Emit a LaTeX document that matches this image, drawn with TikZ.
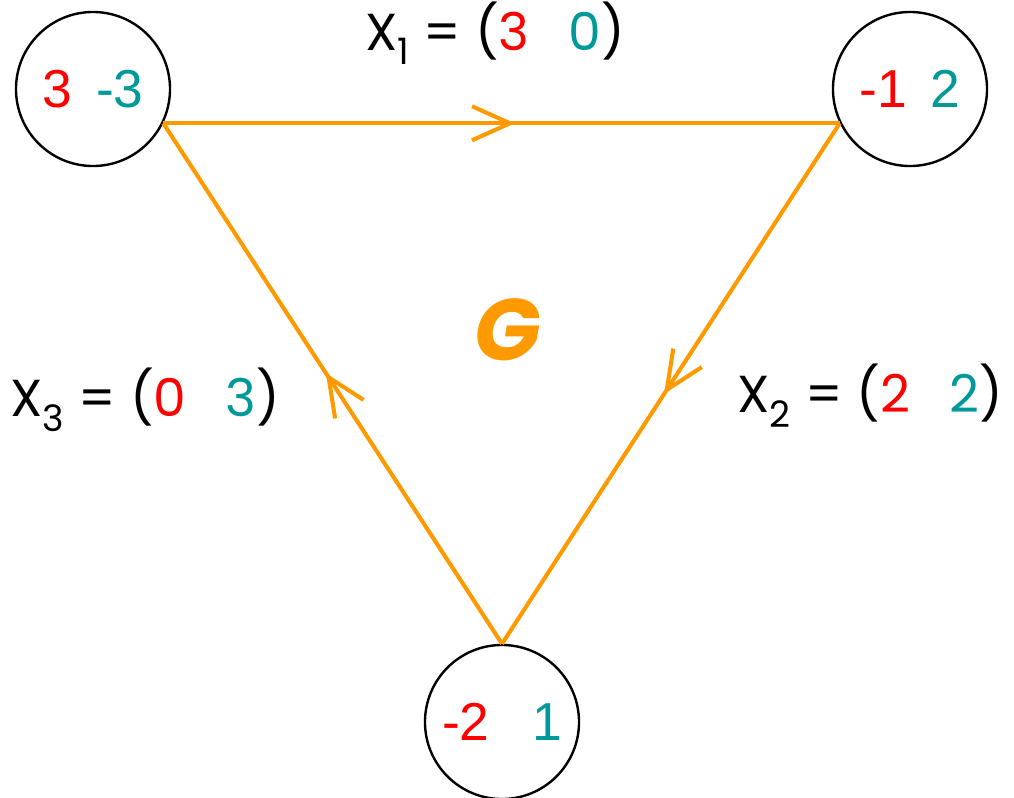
\documentclass[tikz,border=0pt]{standalone}
\usepackage{fontspec}
\setmainfont{Liberation Sans}
\newfontfamily\labfont{Poppins}
\usetikzlibrary{arrows.meta,decorations.markings}
\definecolor{edgeorange}{RGB}{255,153,0}
\definecolor{valred}{RGB}{255,0,0}
\definecolor{valteal}{RGB}{0,153,153}

\begin{document}
\begin{tikzpicture}[x=0.025cm, y=-0.025cm,
vertex/.style={circle, draw=black, line width=1.7pt, minimum size=3.85cm, inner sep=0pt, font=\fontsize{38}{42}\selectfont},
flow/.style={draw=edgeorange, line width=2.9pt, postaction={decorate}, decoration={markings, mark=at position 0.52 with {\arrow[edgeorange, line width=2.9pt]{Straight Barb[length=0.95cm, width=0.85cm]}}}},
lab/.style={font=\labfont\fontsize{37}{40}\selectfont}]

\useasboundingbox (0,0) rectangle (1014,797);

\node[vertex] (a) at (93,89) {\textcolor{valred}{3}\hspace{0.45em}\textcolor{valteal}{-3}};

\node[vertex] (b) at (910,89) {\textcolor{valred}{-1}\hspace{0.45em}\textcolor{valteal}{2}};

\node[vertex] (c) at (502,722) {\textcolor{valred}{-2}\hspace{0.8em}\textcolor{valteal}{1}};

\draw[flow] (a.-26.6) -- (b.206.6);
\draw[flow] (b.206.6) -- (c.90);
\draw[flow] (c.90) -- (a.-26.6);

\node[lab] (x1) at (495,33) {X\textsubscript{1} = (\textcolor{valred}{3}\hspace{0.75em}\textcolor{valteal}{0})};
\node[lab] (x2) at (870,396) {X\textsubscript{2} = (\textcolor{valred}{2}\hspace{0.75em}\textcolor{valteal}{2})};
\node[lab] (x3) at (145,400) {X\textsubscript{3} = (\textcolor{valred}{0}\hspace{0.75em}\textcolor{valteal}{3})};

\node[lab, text=edgeorange, font=\labfont\fontsize{62}{66}\selectfont] (g) at (508,330) {\bfseries\itshape G};

\end{tikzpicture}
\end{document}
